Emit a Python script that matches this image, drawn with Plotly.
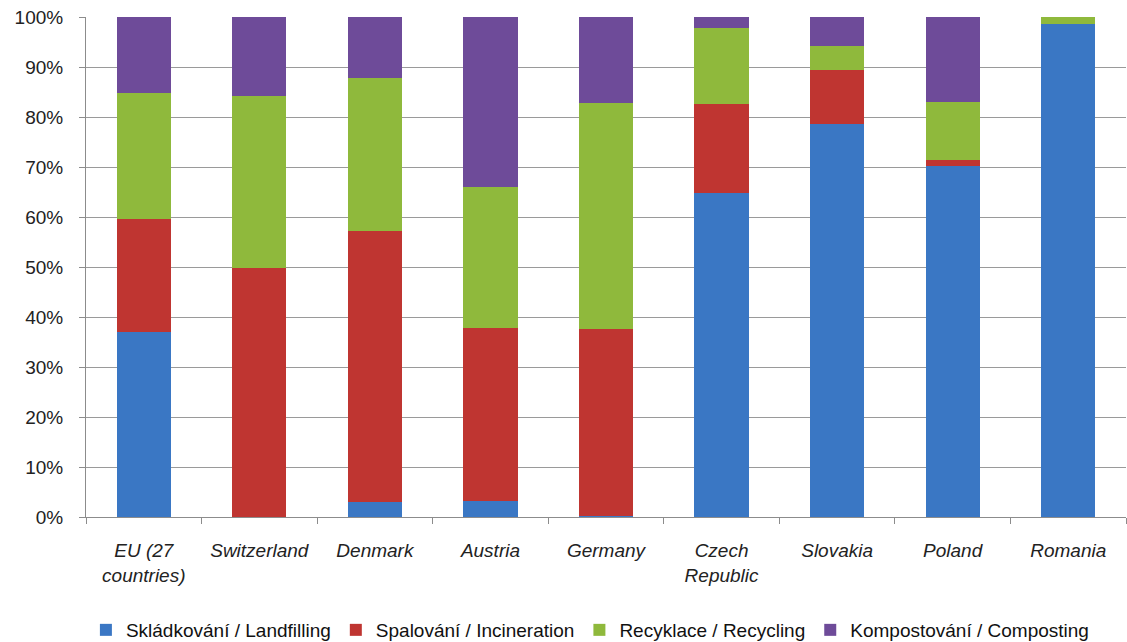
import plotly.graph_objects as go

categories = ["EU (27<br>countries)", "Switzerland", "Denmark", "Austria", "Germany",
              "Czech<br>Republic", "Slovakia", "Poland", "Romania"]
landfilling = [37.0, 0.0, 3.1, 3.3, 0.3, 64.8, 78.7, 70.3, 98.6]
incineration = [22.6, 49.8, 54.1, 34.5, 37.3, 17.8, 10.7, 1.2, 0.0]
recycling = [25.2, 34.4, 30.6, 28.2, 45.2, 15.2, 4.8, 11.6, 1.4]
composting = [15.2, 15.8, 12.2, 34.0, 17.2, 2.2, 5.8, 16.9, 0.0]

series = [
    ("Skládkování / Landfilling", landfilling, "#3a77c4"),
    ("Spalování / Incineration", incineration, "#bf3531"),
    ("Recyklace / Recycling", recycling, "#8fb93c"),
    ("Kompostování / Composting", composting, "#6e4b99"),
]

font_family = "Liberation Sans, Arial, sans-serif"

fig = go.Figure()
for name, vals, col in series:
    fig.add_trace(go.Bar(x=categories, y=vals, name=name, marker_color=col,
                         marker_line_width=0, width=0.47))

fig.update_layout(
    barmode="stack",
    width=1127, height=642,
    margin=dict(l=86, r=1, t=17, b=125, autoexpand=False),
    paper_bgcolor="white", plot_bgcolor="white",
    font=dict(family=font_family, size=19, color="#222222"),
    legend=dict(orientation="h", x=0.485, xanchor="center", y=-0.226, yanchor="middle",
                font=dict(size=19, color="#111111"), traceorder="normal",
                itemwidth=30, tracegroupgap=0),
    xaxis=dict(
        tickfont=dict(size=19, family=font_family, style="italic", color="#222222"),
        showline=True, linecolor="#8c8c8c", linewidth=1,
        ticks="outside", tickson="boundaries", ticklen=6, tickcolor="#8c8c8c",
        showgrid=False, ticklabelstandoff=16, automargin=False,
    ),
    yaxis=dict(
        range=[0, 100], dtick=10, ticksuffix="%",
        tickfont=dict(size=19, family=font_family, color="#222222"),
        showline=True, linecolor="#8c8c8c", linewidth=1,
        ticks="outside", ticklen=6, tickcolor="#8c8c8c",
        showgrid=True, gridcolor="#9a9a9a", gridwidth=1,
        zeroline=False, ticklabelstandoff=12, automargin=False,
    ),
)

fig.write_html("out.html")
